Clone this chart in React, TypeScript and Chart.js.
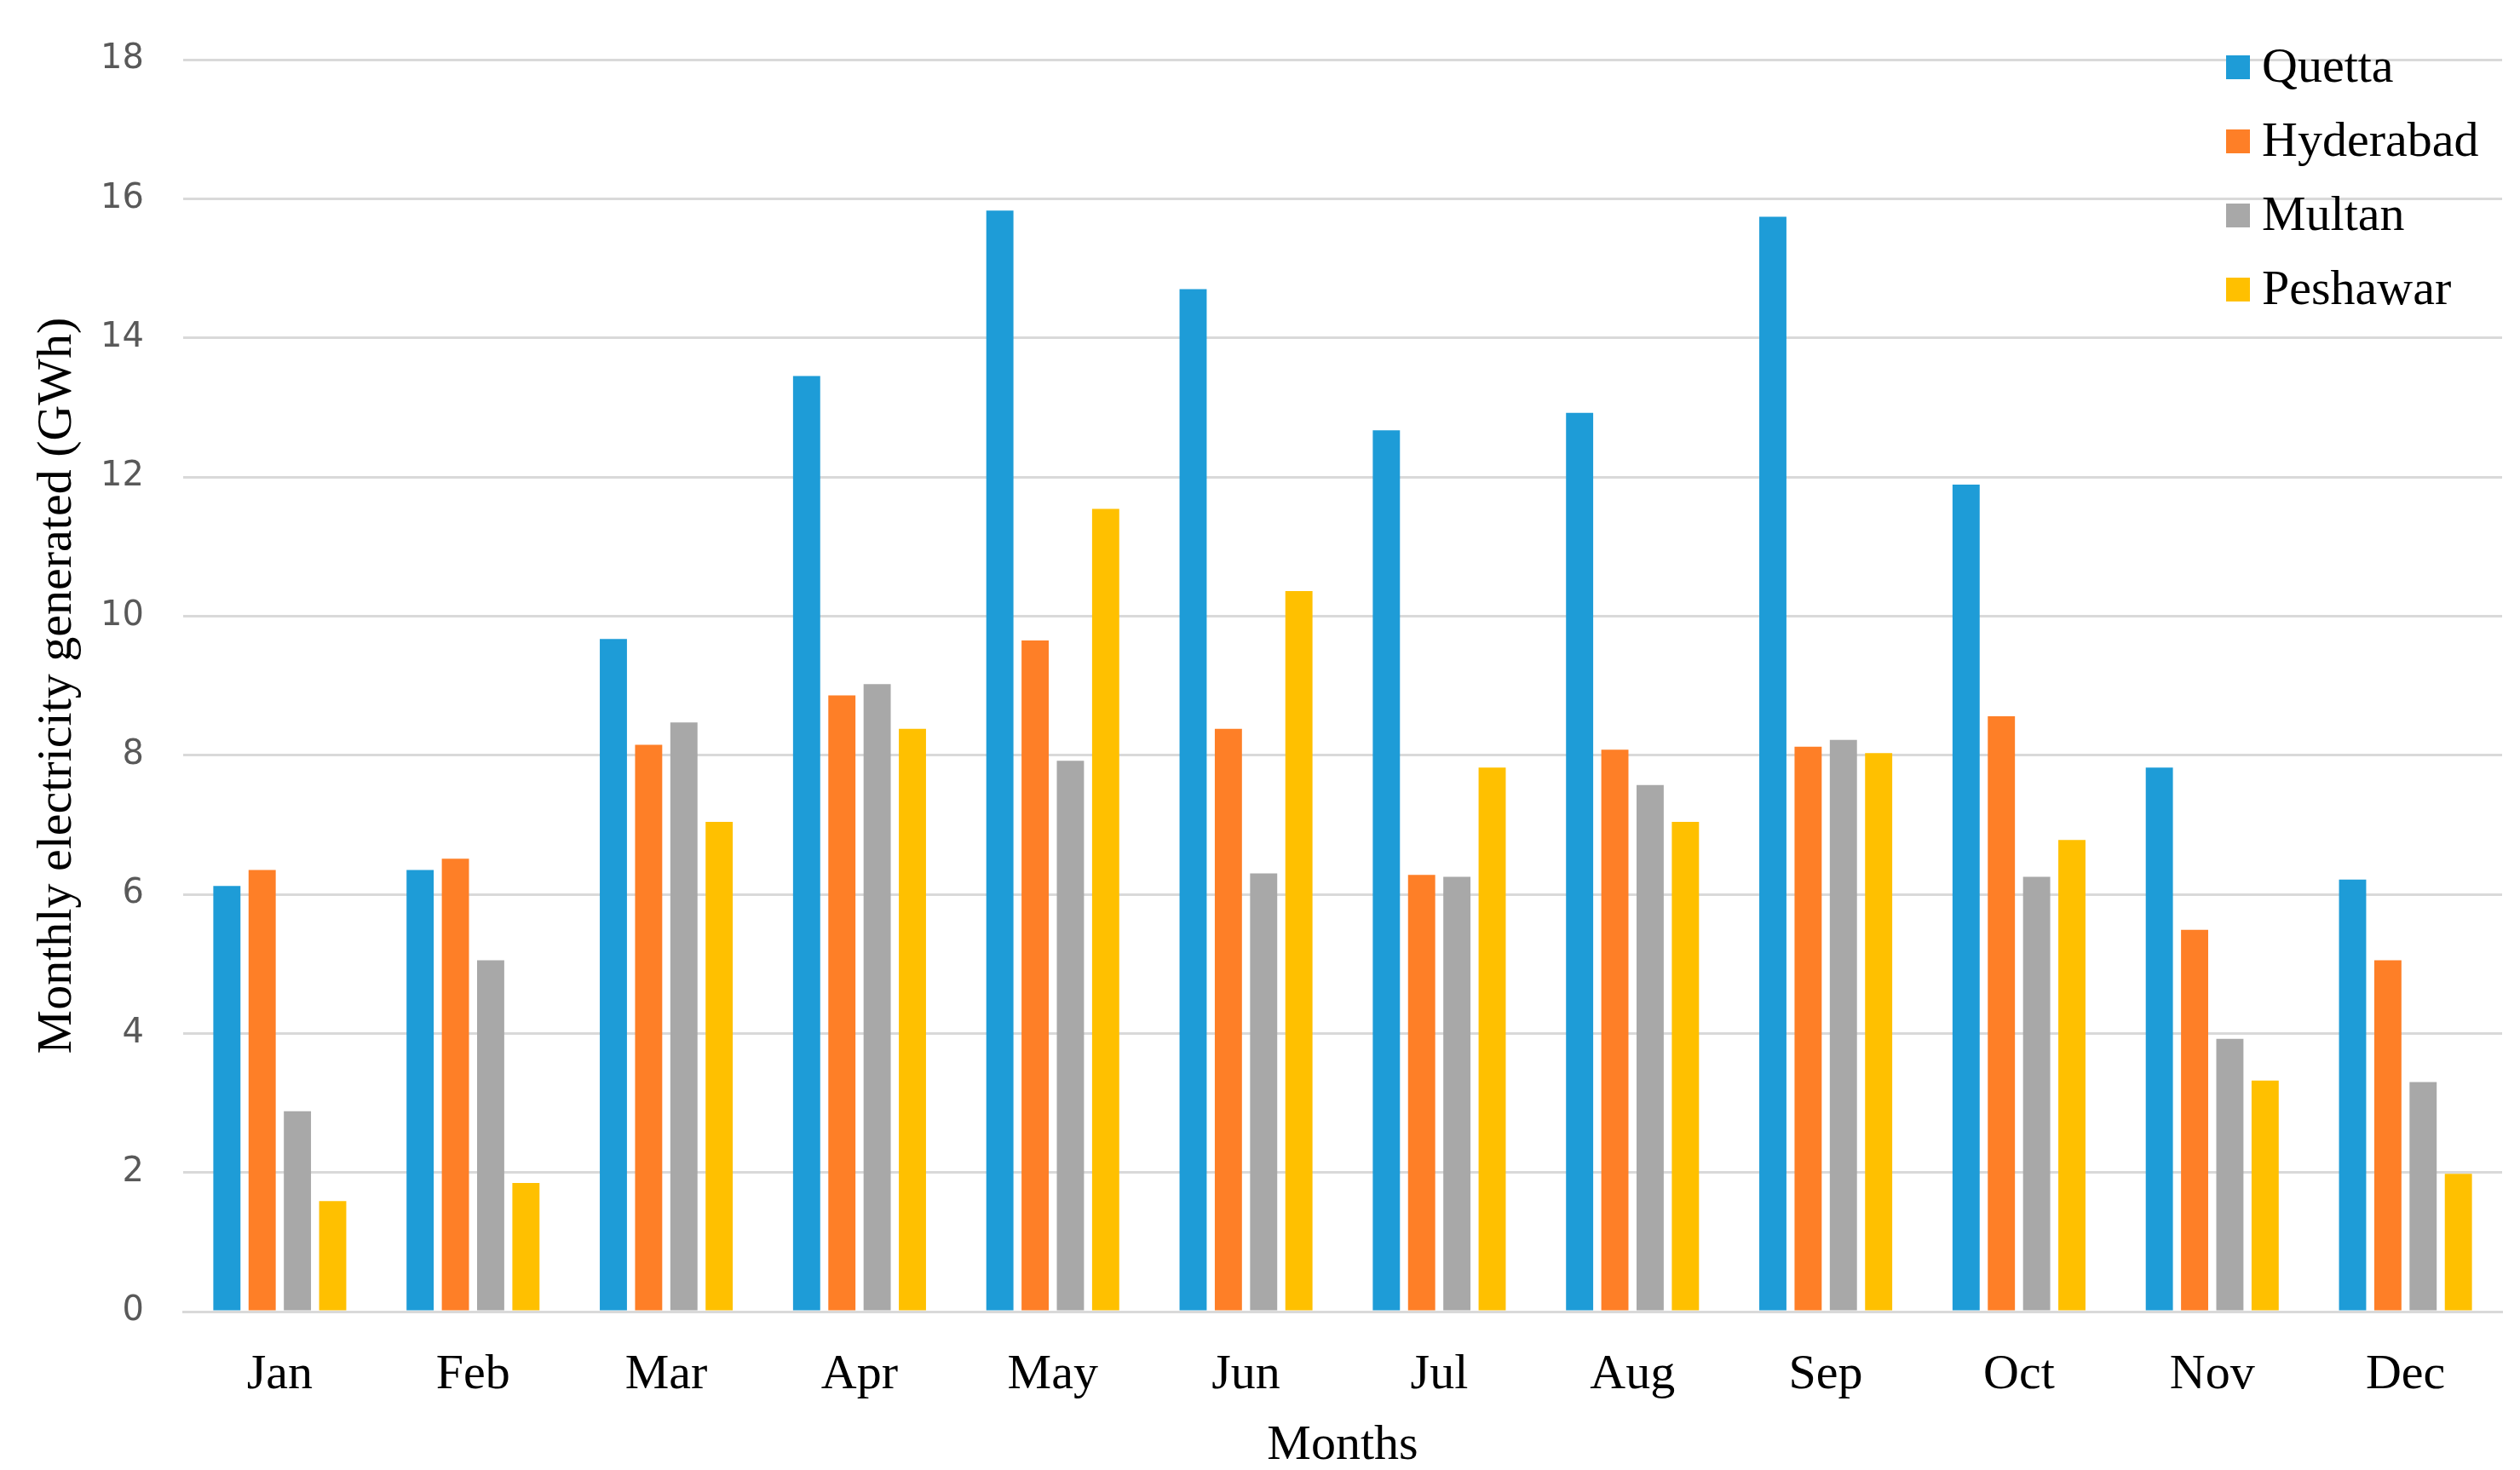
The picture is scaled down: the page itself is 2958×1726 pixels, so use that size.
import React, { useEffect, useRef } from 'react';
import { Chart, registerables } from 'chart.js';

Chart.register(...registerables);

const months = ['Jan', 'Feb', 'Mar', 'Apr', 'May', 'Jun', 'Jul', 'Aug', 'Sep', 'Oct', 'Nov', 'Dec'];
const cities = ['Quetta', 'Hyderabad', 'Multan', 'Peshawar'];
const quetta = [6.12, 6.35, 9.67, 13.45, 15.83, 14.7, 12.67, 12.92, 15.74, 11.89, 7.82, 6.21];
const hyderabad = [6.35, 6.51, 8.15, 8.86, 9.65, 8.38, 6.28, 8.08, 8.12, 8.56, 5.49, 5.05];
const multan = [2.88, 5.05, 8.47, 9.02, 7.92, 6.3, 6.25, 7.57, 8.22, 6.25, 3.92, 3.3];
const peshawar = [1.59, 1.85, 7.04, 8.38, 11.54, 10.36, 7.82, 7.04, 8.03, 6.78, 3.32, 1.98];
const seriesValues = [quetta, hyderabad, multan, peshawar];
const seriesColors = ['#1E9CD7', '#FE7F27', '#A8A8A8', '#FFC000'];
const yMin = 0;
const yMax = 18;
const yStep = 2;

const SERIF = '"Liberation Serif", "Times New Roman", serif';

const legendPlugin = {
  id: 'insideLegend',
  afterDraw(chart: any) {
    const ctx = chart.ctx;
    ctx.save();
    ctx.font = `58px ${SERIF}`;
    ctx.textBaseline = 'middle';
    ctx.textAlign = 'left';
    chart.data.datasets.forEach((ds: any, i: number) => {
      const y = 79 + i * 87;
      ctx.fillStyle = ds.backgroundColor;
      ctx.fillRect(2613, y - 14, 28, 28);
      ctx.fillStyle = '#000000';
      ctx.fillText(ds.label, 2655, y + 2);
    });
    ctx.restore();
  },
};

export default function App() {
  const canvasRef = useRef<HTMLCanvasElement | null>(null);

  useEffect(() => {
    if (!canvasRef.current) return;
    const chart = new Chart(canvasRef.current, {
      type: 'bar',
      data: {
        labels: months,
        datasets: cities.map((c, i) => ({
          label: c,
          data: seriesValues[i],
          backgroundColor: seriesColors[i],
          borderWidth: 0,
          categoryPercentage: 0.73,
          barPercentage: 0.77,
        })),
      },
      options: {
        animation: false,
        responsive: true,
        maintainAspectRatio: false,
        devicePixelRatio: 1,
        layout: { padding: { top: 70, right: 21, bottom: 0, left: 0 } },
        plugins: {
          legend: { display: false },
          tooltip: { enabled: false },
          title: { display: false },
        },
        scales: {
          x: {
            grid: { display: false, drawTicks: false },
            border: { display: true, color: '#D9D9D9', width: 3 },
            ticks: {
              color: '#000000',
              font: { family: SERIF, size: 58 },
              padding: 40,
              maxRotation: 0,
            },
            title: {
              display: true,
              text: 'Months',
              color: '#000000',
              font: { family: SERIF, size: 58 },
              padding: { top: 0, bottom: -7 },
            },
            afterFit(scale: any) {
              scale.height = 186;
            },
          },
          y: {
            min: yMin,
            max: yMax,
            grid: { color: '#D9D9D9', lineWidth: 3, drawTicks: false },
            border: { display: false },
            ticks: {
              stepSize: yStep,
              color: '#595959',
              font: { family: '"DejaVu Sans", sans-serif', size: 40 },
              padding: 46,
            },
            title: {
              display: true,
              text: 'Monthly electricity generated (GWh)',
              color: '#000000',
              font: { family: SERIF, size: 58 },
              padding: { top: 33, bottom: 0 },
            },
            afterFit(scale: any) {
              scale.width = 215;
            },
          },
        },
      },
      plugins: [legendPlugin],
    });
    return () => chart.destroy();
  }, []);

  return (
    <div style={{ position: 'absolute', left: 0, top: 0, width: '2958px', height: '1726px', background: '#ffffff' }}>
      <canvas ref={canvasRef} />
    </div>
  );
}
